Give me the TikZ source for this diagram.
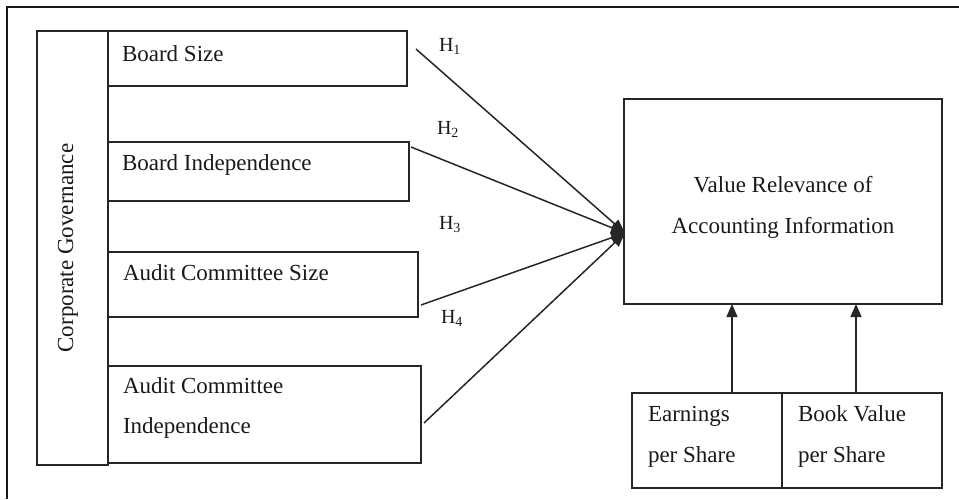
\documentclass[tikz,border=0pt]{standalone}
\usepackage{fontspec}
\setmainfont{Liberation Serif}
\usetikzlibrary{arrows.meta}
\begin{document}
\begin{tikzpicture}[x=1pt,y=-1pt,
  box/.style={draw=black!85, line width=1.6pt, inner sep=0pt, outer sep=0pt, anchor=north west},
  txt/.style={inner sep=0pt, outer sep=0pt, font=\fontsize{23}{28}\selectfont, text=black!90},
  hyp/.style={inner sep=0pt, outer sep=0pt, anchor=base west, font=\fontsize{20}{24}\selectfont, text=black!90},
  conn/.style={draw=black!85, line width=1.5pt, -{Triangle[length=14pt,width=11pt]}},
  upconn/.style={draw=black!85, line width=1.5pt, -{Triangle[length=13pt,width=11pt]}},
]
\useasboundingbox (0,0) rectangle (959,499);
% outer frame
\coordinate (fbl) at (7,499);
\coordinate (ftl) at (7,7);
\coordinate (ftr) at (959,7);
\draw[line width=1.7pt, black!90] (fbl) -- (ftl) -- (ftr);

% boxes
\node[box, minimum width=71pt, minimum height=434pt] (cg) at (37,31) {};
\node[box, minimum width=299pt, minimum height=55pt] (bs) at (108,31) {};
\node[box, minimum width=301pt, minimum height=59pt] (bi) at (108,142) {};
\node[box, minimum width=310pt, minimum height=65pt] (acs) at (108,252) {};
\node[box, minimum width=313pt, minimum height=97pt] (aci) at (108,366) {};
\node[box, minimum width=318pt, minimum height=205pt] (vr) at (624,99) {};
\node[box, minimum width=150pt, minimum height=95pt] (eps) at (632,393) {};
\node[box, minimum width=160pt, minimum height=95pt] (bvps) at (782,393) {};

% texts
\node[txt, rotate=90, anchor=base] (tcg) at (73,248) {Corporate Governance};
\node[txt, anchor=base west] (tbs) at (122,61) {Board Size};
\node[txt, anchor=base west] (tbi) at (122,170) {Board Independence};
\node[txt, anchor=base west] (tacs) at (123,280) {Audit Committee Size};
\node[txt, anchor=base west] (taci1) at (123,393) {Audit Committee};
\node[txt, anchor=base west] (taci2) at (123,433) {Independence};
\node[txt, anchor=base] (tvr1) at (783,192) {Value Relevance of};
\node[txt, anchor=base] (tvr2) at (783,233) {Accounting Information};
\node[txt, anchor=base west] (teps1) at (648,421) {Earnings};
\node[txt, anchor=base west] (teps2) at (648,462) {per Share};
\node[txt, anchor=base west] (tbv1) at (798,421) {Book Value};
\node[txt, anchor=base west] (tbv2) at (798,462) {per Share};

% hypothesis labels
\node[hyp] (h1) at (439,51) {H\textsubscript{1}};
\node[hyp] (h2) at (437,134) {H\textsubscript{2}};
\node[hyp] (h3) at (439,229) {H\textsubscript{3}};
\node[hyp] (h4) at (441,323) {H\textsubscript{4}};

% connectors
\coordinate (s1) at (416,49);
\coordinate (s2) at (411,147);
\coordinate (s3) at (421,305);
\coordinate (s4) at (424,423);
\coordinate (conv) at (625,233);
\draw[conn] (s1) -- (conv);
\draw[conn] (s2) -- (conv);
\draw[conn] (s3) -- (conv);
\draw[conn] (s4) -- (conv);

\coordinate (u1) at (732,393);
\coordinate (u2) at (856,393);
\draw[upconn] (u1) -- (u1 |- vr.south);
\draw[upconn] (u2) -- (u2 |- vr.south);
\end{tikzpicture}
\end{document}
